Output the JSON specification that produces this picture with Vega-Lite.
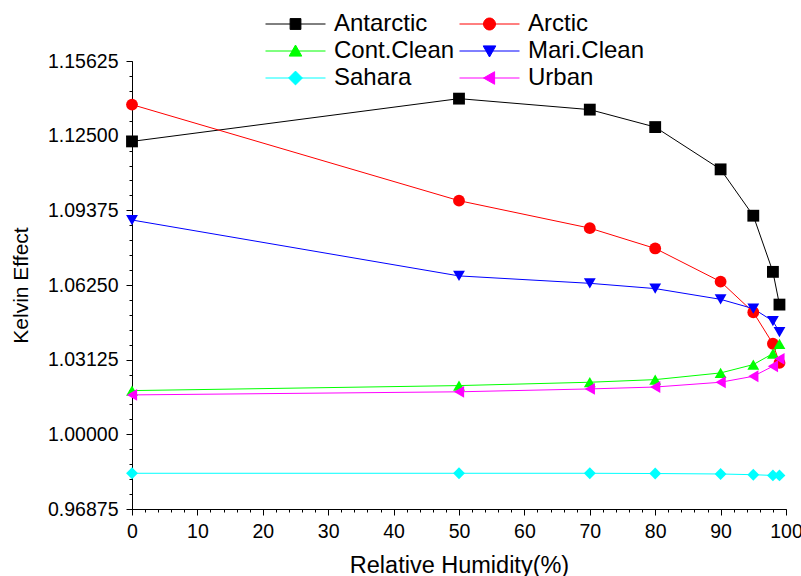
{
  "$schema": "https://vega.github.io/schema/vega-lite/v6.json",
  "width": 654,
  "height": 448,
  "autosize": {"type": "none"},
  "padding": {"left": 132, "top": 61, "right": 15, "bottom": 67},
  "background": "white",
  "config": {
    "view": {"stroke": null},
    "font": "Liberation Sans",
    "axis": {"grid": false, "domainColor": "black", "tickColor": "black", "labelColor": "black", "titleColor": "black", "titleFontWeight": "normal", "domainWidth": 1, "tickWidth": 1},
    "legend": {"labelColor": "black", "labelFont": "Liberation Sans"}
  },
  "data": {
    "values": [
      {"series": "Antarctic", "rh": 0, "kelvin": 1.1226},
      {"series": "Antarctic", "rh": 50, "kelvin": 1.1405},
      {"series": "Antarctic", "rh": 70, "kelvin": 1.1359},
      {"series": "Antarctic", "rh": 80, "kelvin": 1.1286},
      {"series": "Antarctic", "rh": 90, "kelvin": 1.1109},
      {"series": "Antarctic", "rh": 95, "kelvin": 1.0915},
      {"series": "Antarctic", "rh": 98, "kelvin": 1.0680},
      {"series": "Antarctic", "rh": 99, "kelvin": 1.0543},
      {"series": "Arctic", "rh": 0, "kelvin": 1.1380},
      {"series": "Arctic", "rh": 50, "kelvin": 1.0978},
      {"series": "Arctic", "rh": 70, "kelvin": 1.0863},
      {"series": "Arctic", "rh": 80, "kelvin": 1.0778},
      {"series": "Arctic", "rh": 90, "kelvin": 1.0639},
      {"series": "Arctic", "rh": 95, "kelvin": 1.0511},
      {"series": "Arctic", "rh": 98, "kelvin": 1.0379},
      {"series": "Arctic", "rh": 99, "kelvin": 1.0299},
      {"series": "Cont.Clean", "rh": 0, "kelvin": 1.0183},
      {"series": "Cont.Clean", "rh": 50, "kelvin": 1.0204},
      {"series": "Cont.Clean", "rh": 70, "kelvin": 1.0218},
      {"series": "Cont.Clean", "rh": 80, "kelvin": 1.0229},
      {"series": "Cont.Clean", "rh": 90, "kelvin": 1.0257},
      {"series": "Cont.Clean", "rh": 95, "kelvin": 1.0292},
      {"series": "Cont.Clean", "rh": 98, "kelvin": 1.0338},
      {"series": "Cont.Clean", "rh": 99, "kelvin": 1.0379},
      {"series": "Mari.Clean", "rh": 0, "kelvin": 1.0897},
      {"series": "Mari.Clean", "rh": 50, "kelvin": 1.0663},
      {"series": "Mari.Clean", "rh": 70, "kelvin": 1.0632},
      {"series": "Mari.Clean", "rh": 80, "kelvin": 1.0610},
      {"series": "Mari.Clean", "rh": 90, "kelvin": 1.0565},
      {"series": "Mari.Clean", "rh": 95, "kelvin": 1.0526},
      {"series": "Mari.Clean", "rh": 98, "kelvin": 1.0474},
      {"series": "Mari.Clean", "rh": 99, "kelvin": 1.0428},
      {"series": "Sahara", "rh": 0, "kelvin": 0.9837},
      {"series": "Sahara", "rh": 50, "kelvin": 0.9837},
      {"series": "Sahara", "rh": 70, "kelvin": 0.9837},
      {"series": "Sahara", "rh": 80, "kelvin": 0.9836},
      {"series": "Sahara", "rh": 90, "kelvin": 0.9834},
      {"series": "Sahara", "rh": 95, "kelvin": 0.9831},
      {"series": "Sahara", "rh": 98, "kelvin": 0.9828},
      {"series": "Sahara", "rh": 99, "kelvin": 0.9828},
      {"series": "Urban", "rh": 0, "kelvin": 1.0165},
      {"series": "Urban", "rh": 50, "kelvin": 1.0178},
      {"series": "Urban", "rh": 70, "kelvin": 1.0190},
      {"series": "Urban", "rh": 80, "kelvin": 1.0198},
      {"series": "Urban", "rh": 90, "kelvin": 1.0218},
      {"series": "Urban", "rh": 95, "kelvin": 1.0243},
      {"series": "Urban", "rh": 98, "kelvin": 1.0285},
      {"series": "Urban", "rh": 99, "kelvin": 1.0316}
    ]
  },
  "layer": [
    {
      "mark": {"type": "line", "strokeWidth": 1},
      "encoding": {
        "x": {
          "field": "rh", "type": "quantitative",
          "scale": {"domain": [0, 100], "nice": false, "zero": false},
          "axis": {"orient": "bottom", "values": [0, 10, 20, 30, 40, 50, 60, 70, 80, 90, 100], "tickSize": 6, "labelFontSize": 19.5, "labelPadding": 7, "labelFlush": false, "title": "Relative Humidity(%)", "titleFontSize": 23.5, "titlePadding": 13}
        },
        "y": {
          "field": "kelvin", "type": "quantitative",
          "scale": {"domain": [0.96875, 1.15625], "nice": false, "zero": false},
          "axis": {"orient": "left", "values": [0.96875, 1.0, 1.03125, 1.0625, 1.09375, 1.125, 1.15625], "format": ".5f", "tickSize": 6, "labelFontSize": 19.5, "labelPadding": 8, "labelFlush": false, "title": "Kelvin Effect", "titleFontSize": 21, "titlePadding": 16}
        },
        "stroke": {
          "field": "series", "type": "nominal",
          "scale": {"range": ["#000000", "#ff0000", "#00ff00", "#0000ff", "#00ffff", "#ff00ff"]},
          "legend": null
        }
      }
    },
    {
      "mark": {"type": "point", "filled": true, "opacity": 1, "size": 140},
      "encoding": {
        "x": {
          "field": "rh", "type": "quantitative",
          "axis": {"orient": "bottom", "values": [0,2,4,6,8,10,12,14,16,18,20,22,24,26,28,30,32,34,36,38,40,42,44,46,48,50,52,54,56,58,60,62,64,66,68,70,72,74,76,78,80,82,84,86,88,90,92,94,96,98,100], "tickSize": 3, "labels": false, "domain": false, "title": null}
        },
        "y": {
          "field": "kelvin", "type": "quantitative",
          "axis": {"orient": "left", "values": [0.96875,0.975,0.98125,0.9875,0.99375,1.0,1.00625,1.0125,1.01875,1.025,1.03125,1.0375,1.04375,1.05,1.05625,1.0625,1.06875,1.075,1.08125,1.0875,1.09375,1.1,1.10625,1.1125,1.11875,1.125,1.13125,1.1375,1.14375,1.15,1.15625], "tickSize": 3, "labels": false, "domain": false, "title": null}
        },
        "fill": {
          "field": "series", "type": "nominal",
          "scale": {"range": ["#000000", "#ff0000", "#00ff00", "#0000ff", "#00ffff", "#ff00ff"]},
          "legend": null
        },
        "shape": {
          "field": "series", "type": "nominal",
          "scale": {"range": ["square", "circle", "triangle-up", "triangle-down", "diamond", "triangle-left"]},
          "legend": null
        }
      }
    },
    {
      "transform": [{"filter": {"field": "rh", "equal": 0}}],
      "mark": {"type": "point", "filled": true, "opacity": 0, "size": 3600},
      "encoding": {
        "x": {"field": "rh", "type": "quantitative", "axis": null},
        "y": {"field": "kelvin", "type": "quantitative", "axis": null},
        "fill": {
          "field": "series", "type": "nominal",
          "scale": {"range": ["#000000", "#ff0000", "#00ff00", "#0000ff", "#00ffff", "#ff00ff"]},
          "legend": {"orient": "none", "direction": "horizontal", "legendX": 133, "legendY": -48, "columns": 2, "title": null, "symbolSize": 3600, "symbolStrokeWidth": 1, "symbolOpacity": 1, "clipHeight": 22, "labelFontSize": 24, "labelOffset": 8, "columnPadding": 4, "rowPadding": 3}
        },
        "stroke": {
          "field": "series", "type": "nominal",
          "scale": {"range": ["#000000", "#ff0000", "#00ff00", "#0000ff", "#00ffff", "#ff00ff"]},
          "legend": {"orient": "none", "direction": "horizontal", "legendX": 133, "legendY": -48, "columns": 2, "title": null, "symbolSize": 3600, "symbolStrokeWidth": 1, "symbolOpacity": 1, "clipHeight": 22, "labelFontSize": 24, "labelOffset": 8, "columnPadding": 4, "rowPadding": 3}
        },
        "shape": {
          "field": "series", "type": "nominal",
          "scale": {"range": [
            "M-1,0H1M-0.18,-0.18H0.18V0.18H-0.18Z",
            "M-1,0H1M-0.2,0A0.2,0.2,0,1,0,0.2,0A0.2,0.2,0,1,0,-0.2,0Z",
            "M-1,0H1M0,-0.2L0.21,0.17L-0.21,0.17Z",
            "M-1,0H1M0,0.2L0.21,-0.17L-0.21,-0.17Z",
            "M-1,0H1M0,-0.23L0.23,0L0,0.23L-0.23,0Z",
            "M-1,0H1M-0.2,0L0.17,-0.21L0.17,0.21Z"
          ]},
          "legend": {"orient": "none", "direction": "horizontal", "legendX": 133, "legendY": -48, "columns": 2, "title": null, "symbolSize": 3600, "symbolStrokeWidth": 1, "symbolOpacity": 1, "clipHeight": 22, "labelFontSize": 24, "labelOffset": 8, "columnPadding": 4, "rowPadding": 3}
        }
      }
    }
  ],
  "resolve": {
    "axis": {"x": "independent", "y": "independent"},
    "scale": {"fill": "independent", "stroke": "independent", "shape": "independent"}
  }
}
